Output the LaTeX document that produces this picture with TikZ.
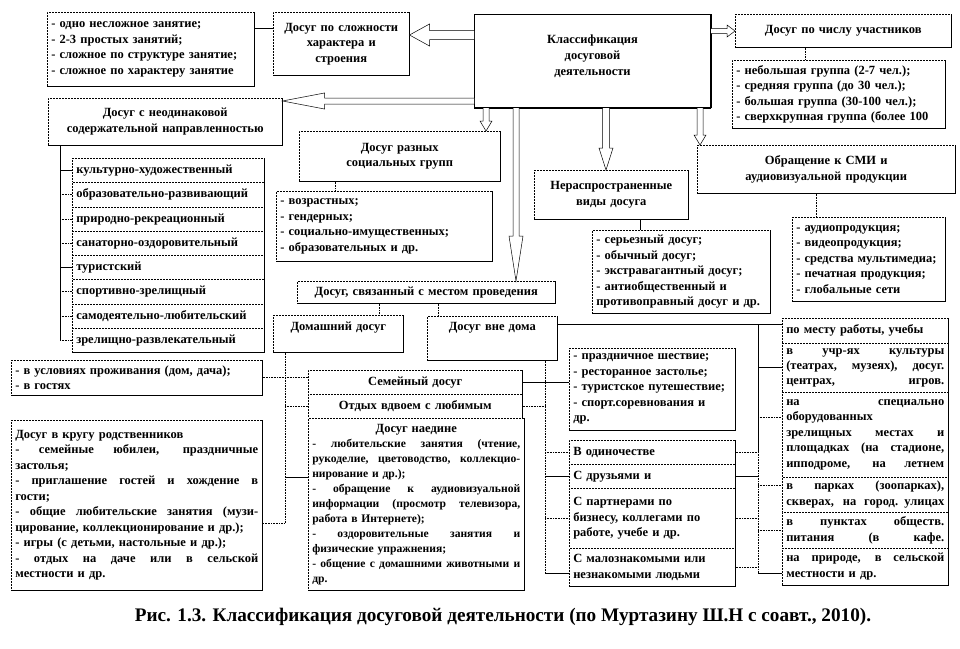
\documentclass[tikz,border=0pt]{standalone}
\usepackage{fontspec}
\setmainfont{Liberation Serif}
\usetikzlibrary{calc}
\tikzset{
 every node/.style={font=\fontsize{12.5}{15.5}\selectfont\bfseries},
 sbox/.style={draw, densely dotted, line width=0.5pt, fill=white, inner xsep=4pt, inner ysep=1pt,
   execute at begin node={\tolerance=10000\hbadness=10000\hfuzz=20pt\hyphenpenalty=10000\exhyphenpenalty=10000\parindent=0pt},
   append after command={(\tikzlastnode.north east) edge[solid,line width=0.7pt] (\tikzlastnode.south east)
      (\tikzlastnode.south east) edge[solid,line width=0.7pt] (\tikzlastnode.south west)}},
 ctr/.style={align=center},
 dl/.style={densely dotted},
 hollow/.style={draw, fill=white, line width=0.5pt},
 conn/.style={line width=0.6pt},
}
\newcommand\jlast[1]{\makebox[\hsize][s]{\spaceskip=0.25em plus 3em minus 0.05em\relax #1}}
\newcommand\jl[1]{\jlast{#1}\\}
\newcommand\bx[7][]{%
  \pgfmathsetmacro\bxw{#5-#3}%
  \pgfmathsetmacro\bxh{#6-#4}%
  \pgfmathsetmacro\bxt{#5-#3-8}%
  \node[sbox,anchor=north west,minimum width=\bxw pt,minimum height=\bxh pt,text width=\bxt pt,#1] (#2) at (#3,#4) {#7};}
\newcommand\harw[5]{%
  \coordinate (aS) at (#1); \coordinate (aT) at (#2);
  \coordinate (aB) at ($(aT)!#5!(aS)$);
  \draw[hollow] ($(aS)!#3!90:(aT)$) -- ($(aB)!#3!-90:(aS)$) -- ($(aB)!#4!-90:(aS)$) -- (aT)
     -- ($(aB)!#4!90:(aS)$) -- ($(aB)!#3!90:(aS)$) -- ($(aS)!#3!-90:(aT)$);}
\begin{document}
\begin{tikzpicture}[x=1pt,y=-1pt]
\useasboundingbox[fill=white] (0,0) rectangle (960,648);
% top row
\bx{lst1}{47}{12}{254}{86}{- одно несложное занятие;\\- 2-3 простых занятий;\\- сложное по структуре занятие;\\- сложное по характеру занятие}
\bx[ctr]{slozh}{273}{12}{409}{75}{Досуг по сложности\\характера и\\строения}
\bx[ctr,solid,line width=1pt,font=\fontsize{12.5}{16}\selectfont\bfseries,text depth=43pt,
    append after command={(\tikzlastnode.north east) edge[solid,line width=2.2pt] (\tikzlastnode.south east)
      (\tikzlastnode.south east) edge[solid,line width=2.2pt] (\tikzlastnode.south west)}]{c}{474}{14}{710}{107}{Классификация\\досуговой\\деятельности}
\bx[ctr]{chislo}{735}{14}{951}{47}{Досуг по числу участников}
\bx{chisloL}{732}{60}{945}{128}{- небольшая группа (2-7 чел.);\\- средняя группа (до 30 чел.);\\- большая группа (30-100 чел.);\\- сверхкрупная группа (более 100}
% left column
\bx[ctr]{neod}{48}{98}{282}{145}{Досуг с неодинаковой\\содержательной направленностью}
\bx{i1}{72}{158}{264}{182}{культурно-художественный}
\bx{i2}{72}{182}{264}{207}{образовательно-развивающий}
\bx{i3}{72}{207}{264}{231}{природно-рекреационный}
\bx{i4}{72}{231}{264}{255}{санаторно-оздоровительный}
\bx{i5}{72}{255}{264}{279}{туристский}
\bx{i6}{72}{279}{264}{304}{спортивно-зрелищный}
\bx{i7}{72}{304}{264}{328}{самодеятельно-любительский}
\bx{i8}{72}{328}{264}{352}{зрелищно-развлекательный}
% middle upper
\bx[ctr]{soc}{299}{131}{500}{181}{Досуг разных\\социальных групп}
\bx{socL}{276}{191}{492}{261}{- возрастных;\\- гендерных;\\- социально-имущественных;\\- образовательных и др.}
\bx[ctr]{nerasp}{534}{170}{688}{219}{Нераспространенные\\виды досуга}
\bx{neraspL}{592}{230}{770}{313}{- серьезный досуг;\\- обычный досуг;\\- экстравагантный досуг;\\- антиобщественный и\\противоправный досуг и др.}
\bx[ctr]{smi}{697}{145}{955}{193}{Обращение к СМИ и\\аудиовизуальной продукции}
\bx{smiL}{792}{217}{945}{301}{- аудиопродукция;\\- видеопродукция;\\- средства мультимедиа;\\- печатная продукция;\\- глобальные сети}
% place
\bx[ctr]{mesto}{297}{281}{555}{303}{Досуг, связанный с местом проведения}
\bx[ctr,text depth=15pt]{dom}{273}{315}{403}{352}{Домашний досуг}
\bx[ctr,text depth=24pt]{vne}{427}{316}{557}{360}{Досуг вне дома}
\bx{uslov}{11}{360}{262}{395}{- в условиях проживания (дом, дача);\\- в гостях}
\bx{rodstv}{11}{420}{262}{590}{Досуг в кругу родственников\\\jl{- семейные юбилеи, праздничные}застолья;\\\jl{- приглашение гостей и хождение в}гости;\\\jl{- общие любительские занятия (музи-}цирование, коллекционирование и др.);\\- игры (с детьми, настольные и др.);\\\jl{- отдых на даче или в сельской}местности и др.}
\bx[ctr]{s1}{308}{370}{522}{394}{Семейный досуг}
\bx[ctr]{s2}{308}{394}{522}{418}{Отдых вдвоем с любимым}
\bx[text width=208pt,font=\fontsize{11.6}{15}\selectfont\bfseries]{s3}{308}{418}{522}{590}{{\centering\fontsize{12.5}{15}\selectfont Досуг наедине\par}\jl{- любительские занятия (чтение,}\jl{рукоделие, цветоводство, коллекцио-}нирование и др.);\\\jl{- обращение к аудиовизуальной}\jl{информации (просмотр телевизора,}работа в Интернете);\\\jl{- оздоровительные занятия и}физические упражнения;\\\jl{- общение с домашними животными и}др.}
\bx{prazd}{569}{348}{735}{430}{- праздничное шествие;\\- ресторанное застолье;\\- туристское путешествие;\\- спорт.соревнования и\\др.}
\bx{m1}{569}{440}{735}{464}{В одиночестве}
\bx{m2}{569}{464}{735}{488}{С друзьями и}
\bx{m3}{569}{488}{735}{548}{С партнерами по\\бизнесу, коллегами по\\работе, учебе и др.}
\bx{m4}{569}{548}{735}{586}{С малознакомыми или\\незнакомыми людьми}
\bx{r1}{782}{318}{948}{343}{по месту работы, учебы}
\bx[font=\fontsize{12.5}{15}\selectfont\bfseries]{r2}{782}{343}{948}{392}{\jl{в учр-ях культуры}\jl{(театрах, музеях), досуг.}\jlast{центрах, игров.}}
\bx{r3}{782}{392}{948}{477}{\jl{на специально}оборудованных\\\jl{зрелищных местах и}\jl{площадках (на стадионе,}\jlast{ипподроме, на летнем}}
\bx{r4}{782}{477}{948}{512}{\jl{в парках (зоопарках),}\jlast{скверах, на город. улицах}}
\bx{r5}{782}{512}{948}{548}{\jl{в пунктах обществ.}\jlast{питания (в кафе.}}
\bx{r6}{782}{548}{948}{585}{\jl{на природе, в сельской}местности и др.}
% caption
\node[font=\fontsize{19.2}{22}\selectfont\bfseries] (cap) at (503,617) {Рис. 1.3. Классификация досуговой деятельности (по Муртазину Ш.Н с соавт., 2010).};
% trunk coordinates
\coordinate (tN) at (60,0);
\coordinate (tD) at (285,0);
\coordinate (tM) at (545,0);
\coordinate (tR) at (758,0);
% hollow arrows
\harw{c.west |- 0,35}{slozh.east |- 0,35}{4.5pt}{11pt}{20pt}
\harw{c.west |- 0,101}{neod.east |- 0,101}{3pt}{8pt}{42pt}
\harw{c.east |- 0,31}{chislo.west |- 0,31}{2.5pt}{6pt}{8pt}
\harw{c.south -| 486,0}{soc.north -| 486,0}{3pt}{6pt}{10pt}
\harw{c.south -| 516,0}{mesto.north -| 516,0}{3pt}{7pt}{45pt}
\harw{c.south -| 606,0}{nerasp.north -| 606,0}{3.5pt}{7pt}{22pt}
\harw{c.south -| 700,0}{smi.north -| 700,0}{3pt}{6pt}{10pt}
% simple links
\draw[conn] (lst1.east |- 0,28) -- (slozh.west |- 0,28);
\draw[conn,dl] (chislo.south -| 805,0) -- (chisloL.north -| 805,0);
\draw[conn,dl] (soc.south -| 335,0) -- (socL.north -| 335,0);
\draw[conn] (nerasp.south -| 640,0) -- (neraspL.north -| 640,0);
\draw[conn,dl] (smi.south -| 816,0) -- (smiL.north -| 816,0);
\draw[conn,dl] (mesto.south -| 379,0) -- (dom.north -| 379,0);
\draw[conn,dl] (mesto.south -| 438,0) -- (vne.north -| 438,0);
% left bracket
\draw[conn] (neod.south -| tN) -- (tN |- i8.west);
\foreach \i/\st in {1/solid,2/densely dotted,3/densely dotted,4/densely dotted,5/solid,6/densely dotted,7/densely dotted,8/densely dotted}
  \draw[conn,\st] (tN |- i\i.west) -- (i\i.west);
% domestic bracket
\draw[conn,dl] (dom.south -| tD) |- (rodstv.east |- 0,523);
\draw[conn,dl] (uslov.east) -- (uslov.east -| s1.west);
\draw[conn,dl] (tD |- s2.west) -- (s2.west);
\draw[conn] (tD |- 0,477) -- (s3.west |- 0,477);
% outdoor middle bracket
\draw[conn,dl] (vne.south -| tM) -- (tM |- 0,573);
\draw[conn] (s1.east) -- (prazd.west |- s1.east);
\draw[conn,dl] (s2.east) -- (tM |- s2.east);
\draw[conn,dl] (tM |- m1.west) -- (m1.west);
\draw[conn] (tM |- m2.west) -- (m2.west);
\draw[conn,dl] (tM |- m3.west) -- (m3.west);
\draw[conn] (tM |- 0,573) -- (m4.west |- 0,573);
% right bracket
\draw[conn] (vne.east |- 0,324) -- (r1.west |- 0,324);
\draw[conn] (tR |- 0,324) -- (tR |- m1.east);
\draw[conn,dl] (tR |- m1.east) -- (tR |- 0,573);
\draw[conn] (tR |- r2.west) -- (r2.west);
\draw[conn,dl] (tR |- 0,417) -- (r3.west |- 0,417);
\draw[conn,dl] (tR |- 0,485) -- (r4.west |- 0,485);
\draw[conn,dl] (tR |- r5.west) -- (r5.west);
\draw[conn] (tR |- 0,573) -- (r6.west |- 0,573);
\draw[conn,dl] (m1.east) -- (tR |- m1.east);
\draw[conn] (m2.east) -- (tR |- m2.east);
\draw[conn,dl] (m3.east) -- (tR |- m3.east);
\draw[conn,dl] (m4.east) -- (tR |- m4.east);
\end{tikzpicture}
\end{document}
